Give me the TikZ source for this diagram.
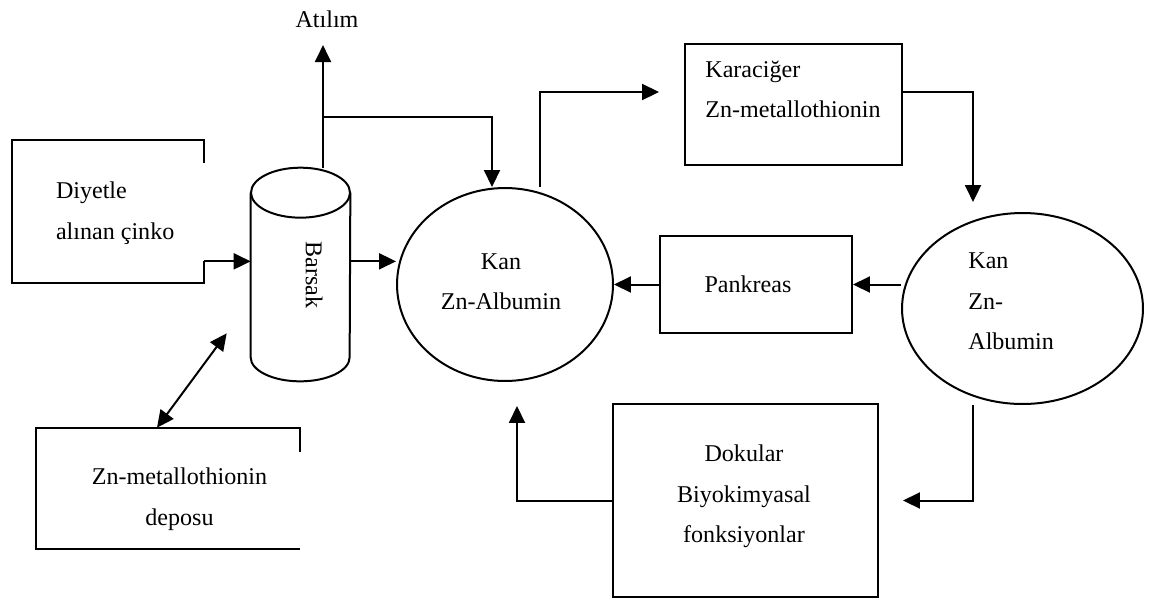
\documentclass[tikz,border=0pt]{standalone}
\usepackage{fontspec}
\setmainfont{Liberation Serif}
\usetikzlibrary{arrows.meta,shapes.geometric}

\tikzset{
	kutu/.style={draw, line width=0.4mm, inner sep=0pt},
	hucre/.style={draw, ellipse, line width=0.4mm, inner sep=0pt},
	yazi/.style={font=\fontsize{13.7}{23}\selectfont, inner sep=0pt},
	ok/.style={line width=0.4mm, -{Triangle[length=0.34cm, width=0.32cm]}},
	ciftok/.style={line width=0.4mm, {Triangle[length=0.34cm, width=0.32cm]}-{Triangle[length=0.34cm, width=0.32cm]}},
}

\begin{document}
\begin{tikzpicture}[x=0.02cm, y=-0.02cm]
		%%%%% START %%%%%
		\useasboundingbox (0,0) rectangle (1151,599);
		
		\node[minimum width=3.84cm, minimum height=2.86cm, inner sep=0pt] (diyet) at (108,211.5) {};
		\draw[line width=0.4mm] ([yshift=-0.46cm]diyet.north east) -- (diyet.north east) -- (diyet.north west) -- (diyet.south west) -- (diyet.south east) -- ([yshift=0.44cm]diyet.south east);
		\node[yazi, align=left, anchor=west] (diyetyazi) at ([xshift=0.88cm, yshift=-0.03cm]diyet.west) {Diyetle\\alınan çinko};
		
		\node[minimum width=1.98cm, minimum height=3.28cm, inner sep=0pt] (barsak) at (300.5,275) {};
		\draw[line width=0.4mm] (barsak.north west) -- (barsak.south west) arc[start angle=180, end angle=360, x radius=0.99cm, y radius=0.48cm] -- (barsak.north east);
		\draw[line width=0.4mm] (barsak.north) ellipse[x radius=0.99cm, y radius=0.5cm];
		\node[yazi, rotate=-90] (barsakyazi) at ([xshift=0.27cm]barsak.center) {Barsak};
		
		\node[hucre, minimum width=4.32cm, minimum height=3.86cm] (kan) at (505,284.5) {};
		\node[yazi, align=center] (kanyazi) at ([xshift=-0.08cm, yshift=0.06cm]kan.center) {Kan\\Zn-Albumin};
		
		\node[kutu, minimum width=4.34cm, minimum height=2.42cm] (karaciger) at (793.5,104.5) {};
		\node[yazi, align=left, anchor=west] (karacigeryazi) at ([xshift=0.42cm, yshift=0.305cm]karaciger.west) {Karaciğer\\Zn-metallothionin};
		
		\node[kutu, minimum width=3.84cm, minimum height=1.94cm] (pankreas) at (756,284.5) {};
		\node[yazi] (pankreasyazi) at ([xshift=-0.16cm]pankreas.center) {Pankreas};
		
		\node[hucre, minimum width=4.82cm, minimum height=3.82cm] (sagkan) at (1022.5,308.5) {};
		\node[yazi, align=left, anchor=west] (sagkanyazi) at ([xshift=1.34cm, yshift=0.145cm]sagkan.west) {Kan\\Zn-\\Albumin};
		
		\node[kutu, minimum width=5.3cm, minimum height=3.86cm] (doku) at (745.5,500.5) {};
		\node[yazi, align=center] (dokuyazi) at ([xshift=-0.03cm, yshift=0.08cm]doku.center) {Dokular\\Biyokimyasal\\fonksiyonlar};
		
		\node[minimum width=5.28cm, minimum height=2.42cm, inner sep=0pt] (depo) at (168,488.5) {};
		\draw[line width=0.4mm] ([yshift=-0.48cm]depo.north east) -- (depo.north east) -- (depo.north west) -- (depo.south west) -- (depo.south east);
		\node[yazi, align=center] (depoyazi) at ([xshift=0.23cm, yshift=-0.21cm]depo.center) {Zn-metallothionin\\deposu};
		
		% oklar
		\coordinate (d0) at ([yshift=0.44cm]diyet.south east);
		\draw[ok] (d0) -- (barsak.west |- d0);
		\draw[ok] (barsak.east |- d0) -- (kan.west |- d0);
		
		\coordinate (b1) at ([xshift=0.45cm, yshift=0.5cm]barsak.north);
		\coordinate (ayrim) at ([yshift=1.02cm]b1);
		\node[yazi, anchor=base, text depth=0.34cm] (atilim) at ([xshift=0.08cm, yshift=1.78cm]ayrim) {Atılım};
		\draw[ok] (b1) -- (atilim.south -| b1);
		\draw[ok] (ayrim) -| ([xshift=-0.26cm]kan.north);
		
		\draw[ok] ([xshift=0.7cm]kan.north) |- ([xshift=-0.5cm, yshift=0.25cm]karaciger.west);
		\draw[ok] ([yshift=0.25cm]karaciger.east) -| ([xshift=-0.99cm, yshift=0.2cm]sagkan.north);
		\draw[ok] (sagkan.west |- pankreas.east) -- (pankreas.east);
		\draw[ok] (pankreas.west) -- (kan.east);
		\draw[ok] ([xshift=-0.99cm]sagkan.south) |- ([xshift=0.48cm]doku.east);
		\draw[ok] (doku.west) -| ([xshift=0.24cm, yshift=-0.48cm]kan.south);
		\draw[ciftok] ([xshift=-0.22cm]depo.north) -- ([xshift=-0.48cm, yshift=0.48cm]barsak.south west);
		
		%%%%% END %%%%%
\end{tikzpicture}
\end{document}
